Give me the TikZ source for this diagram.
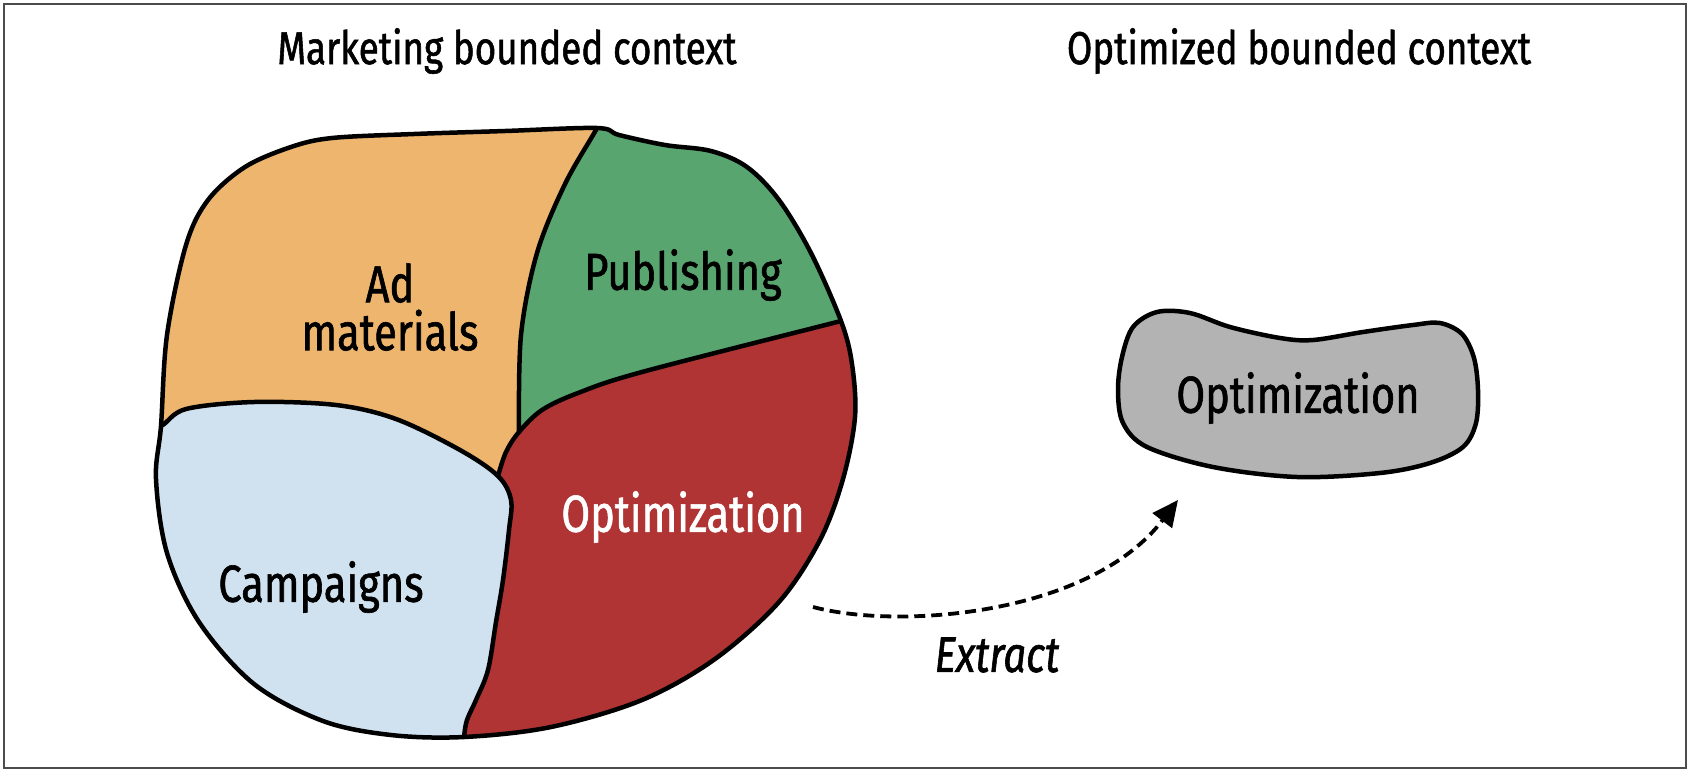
\documentclass[tikz,border=0pt]{standalone}
\usepackage{fontspec}
\setmainfont{Fira Sans}[FakeStretch=0.8,FakeBold=1.2]
\usetikzlibrary{arrows.meta}
\definecolor{cOrange}{RGB}{238,181,110}
\definecolor{cGreen}{RGB}{88,165,112}
\definecolor{cRed}{RGB}{176,52,52}
\definecolor{cBlue}{RGB}{208,226,240}
\definecolor{cGray}{RGB}{179,179,179}
\begin{document}
\begin{tikzpicture}[x=1pt,y=-1pt,
  outline/.style={draw=black,line width=4.5pt,line join=round,line cap=round},
  titletext/.style={font=\fontsize{46}{52}\selectfont},
  regiontext/.style={font=\fontsize{52}{56}\selectfont,align=center},
  extractarrow/.style={draw=black,line width=3.8pt,dash pattern=on 11pt off 6pt,-{Triangle[length=26pt,width=24pt]}},
  extracttext/.style={font=\itshape\fontsize{50}{56}\selectfont}]
\useasboundingbox (0,0) rectangle (1690,772);
\draw[black!70,line width=2pt] (4,4) rectangle (1686,768);

% titles
\node[titletext] (tMark) at (507,51) {Marketing bounded context};
\node[titletext] (tOpt) at (1299,51) {Optimized bounded context};

% marketing blob
\begin{scope}
\clip plot[smooth cycle,tension=0.55] coordinates {(161,426) (167,335) (186,245) (208,200) (245,167) (291,147) (332,138) (414,134) (505,131) (597,128) (619,135) (665,145) (711,151) (747,167) (779,200) (811,253) (841,321) (852,364) (855,417) (843,479) (820,540) (779,602) (715,659) (642,700) (551,727) (464,737) (391,735) (323,721) (254,684) (199,622) (167,553) (156,479)};
\fill[cRed] (0,0) rectangle (1000,800);
\begin{scope}
 \clip plot[smooth,tension=0.55] coordinates {(498,476) (506,452) (519,432) (542,410) (578,393) (642,372) (841,321) (880,311)} -- (880,40) -- (100,40) -- (100,476) -- cycle;
 \fill[cGreen] (0,0) rectangle (1000,800);
 \fill[cOrange] plot[smooth,tension=0.55] coordinates {(519,432) (521,335) (537,253) (565,184) (597,128) (610,100)} -- (610,40) -- (100,40) -- (100,600) -- (519,600) -- cycle;
\end{scope}
\fill[cBlue] plot[smooth,tension=0.55] coordinates {(140,430) (161,426) (186,409) (254,402) (336,405) (396,419) (460,450) (498,476) (511,500) (509,530) (503,580) (496,622) (488,670) (476,700) (467,720) (464,737) (462,760)} -- (462,800) -- (100,800) -- (100,430) -- cycle;
\draw[outline] plot[smooth,tension=0.55] coordinates {(140,430) (161,426) (186,409) (254,402) (336,405) (396,419) (460,450) (498,476) (511,500) (509,530) (503,580) (496,622) (488,670) (476,700) (467,720) (464,737) (462,760)};
\draw[outline] plot[smooth,tension=0.55] coordinates {(498,476) (506,452) (519,432) (542,410) (578,393) (642,372) (841,321) (880,311)};
\draw[outline] plot[smooth,tension=0.55] coordinates {(519,432) (521,335) (537,253) (565,184) (597,128) (610,100)};
\end{scope}
\draw[outline] plot[smooth cycle,tension=0.55] coordinates {(161,426) (167,335) (186,245) (208,200) (245,167) (291,147) (332,138) (414,134) (505,131) (597,128) (619,135) (665,145) (711,151) (747,167) (779,200) (811,253) (841,321) (852,364) (855,417) (843,479) (820,540) (779,602) (715,659) (642,700) (551,727) (464,737) (391,735) (323,721) (254,684) (199,622) (167,553) (156,479)};

\node[regiontext] (nAd) at (390,307) {Ad\\[-8pt]materials};
\node[regiontext] (nPub) at (683,275) {Publishing};
\node[regiontext,text=white] (nOptL) at (683,517) {Optimization};
\node[regiontext] (nCamp) at (321,587) {Campaigns};

% extracted blob
\filldraw[fill=cGray,outline] plot[smooth cycle,tension=0.55] coordinates {(1118,390) (1122,357) (1133,327) (1157,312) (1190,313) (1230,327) (1280,338) (1313,340) (1363,332) (1413,325) (1440,323) (1462,334) (1474,358) (1478,390) (1476,423) (1463,447) (1430,463) (1380,473) (1297,477) (1213,467) (1147,447) (1123,423)};
\node[regiontext] (nOptR) at (1298,398) {Optimization};

% extract arrow
\coordinate (exS) at (813,607);
\coordinate (exE) at (1178,500);
\draw[extractarrow] (exS) .. controls (900,630) and (1090,615) .. (exE);
\node[extracttext] (nExtract) at (997,655) {Extract};
\end{tikzpicture}
\end{document}
